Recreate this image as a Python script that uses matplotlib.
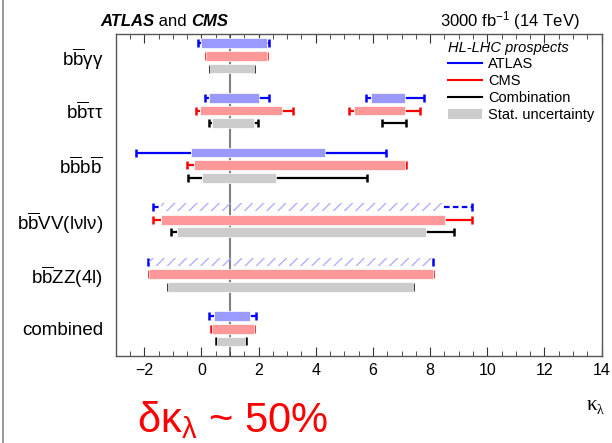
import matplotlib
matplotlib.use('Agg')
import matplotlib.pyplot as plt
from matplotlib.lines import Line2D
from matplotlib.patches import Patch
from matplotlib.ticker import MultipleLocator

plt.rcParams['font.family'] = ['Liberation Sans', 'DejaVu Sans']
plt.rcParams['mathtext.fontset'] = 'custom'
plt.rcParams['mathtext.rm'] = 'Liberation Sans'
plt.rcParams['mathtext.it'] = 'Liberation Sans:italic'
plt.rcParams['mathtext.bf'] = 'Liberation Sans:bold'
plt.rcParams['hatch.linewidth'] = 1.0

# categories from bottom to top
categories = ['combined', 'bbZZ', 'bbVV', 'bbbb', 'bbtautau', 'bbgamgam']
cat_labels = ['combined',
              r'b$\overline{\mathrm{b}}$ZZ(4l)',
              r'b$\overline{\mathrm{b}}$VV(lνlν)',
              r'b$\overline{\mathrm{b}}$b$\overline{\mathrm{b}}$',
              r'b$\overline{\mathrm{b}}$ττ',
              r'b$\overline{\mathrm{b}}$γγ']

# (category, stat_lo, stat_hi, total_lo, total_hi); None -> no stat box
atlas = [
    ('bbgamgam', 0.00, 2.30, -0.12, 2.38),
    ('bbtautau', 0.25, 2.03, 0.12, 2.38),
    ('bbtautau', 5.94, 7.13, 5.75, 7.80),
    ('bbbb', -0.36, 4.34, -2.28, 6.45),
    ('bbVV', -1.43, 8.47, -1.69, 9.46),
    ('bbZZ', -1.84, 8.10, -1.88, 8.10),
    ('combined', 0.45, 1.69, 0.28, 1.91),
]
cms = [
    ('bbgamgam', 0.15, 2.30, 0.15, 2.30),
    ('bbtautau', -0.05, 2.82, -0.20, 3.22),
    ('bbtautau', 5.33, 7.11, 5.17, 7.66),
    ('bbbb', -0.27, 7.12, -0.52, 7.16),
    ('bbVV', -1.43, 8.51, -1.69, 9.47),
    ('bbZZ', -1.84, 8.10, -1.84, 8.10),
    ('combined', 0.37, 1.83, 0.35, 1.85),
]
combination = [
    ('bbgamgam', 0.30, 1.83, 0.30, 1.85),
    ('bbtautau', 0.37, 1.83, 0.28, 1.97),
    ('bbtautau', None, None, 6.32, 7.17),
    ('bbbb', 0.03, 2.61, -0.47, 5.79),
    ('bbVV', -0.85, 7.86, -1.05, 8.82),
    ('bbZZ', -1.18, 7.40, -1.18, 7.40),
    ('combined', 0.55, 1.51, 0.52, 1.56),
]

fig = plt.figure(figsize=(6.12, 4.43), dpi=100)
ax = fig.add_axes([0.189, 0.196, 0.794, 0.727])

bar_h = 0.18
series = [
    (atlas, 0.23, '#9999ff', '#0000ff'),
    (cms, 0.0, '#ff9999', '#ff0000'),
    (combination, -0.23, '#cccccc', '#000000'),
]

for data, offset, fill, line in series:
    for cat, slo, shi, tlo, thi in data:
        y = categories.index(cat) + offset
        hatched = data is atlas and cat in ('bbVV', 'bbZZ')
        ls = (0, (2.5, 1.5)) if hatched else '-'
        if slo is None:
            ax.hlines(y, tlo, thi, color=line, lw=1.6, zorder=2)
        else:
            ax.hlines([y, y], [tlo, shi], [slo, thi], color=line, lw=1.6,
                      linestyles=ls, zorder=2)
        ax.plot([tlo, thi], [y, y], ls='none', marker='|', ms=6,
                mew=1.8, color=line, zorder=2)
        if slo is None:
            continue
        if hatched:
            ax.barh(y, shi - slo, left=slo, height=bar_h * 0.85, fill=False,
                    hatch='///', edgecolor='#b0b0ff', lw=0, zorder=3)
        else:
            ax.barh(y, shi - slo, left=slo, height=bar_h, color=fill,
                    edgecolor='white', lw=0.5, zorder=3)

ax.axvline(1, color='#808080', lw=1.5, zorder=1)

ax.set_xlim(-3, 14)
ax.set_ylim(-0.5, 5.4)
ax.set_yticks(range(len(categories)))
ax.set_yticklabels(cat_labels, fontsize=13.5)
ax.xaxis.set_major_locator(MultipleLocator(2))
ax.xaxis.set_minor_locator(MultipleLocator(0.5))
ax.tick_params(axis='x', which='both', direction='in', top=True,
               labelsize=11.5, pad=5, color='#333333')
ax.tick_params(axis='x', which='major', length=6.5)
ax.tick_params(axis='x', which='minor', length=3.3)
ax.tick_params(axis='y', which='both', left=False, right=False, pad=5.5)
for s in ax.spines.values():
    s.set_color('#555555')
    s.set_linewidth(1.0)

handles = [Line2D([], [], color='#0000ff', lw=1.5),
           Line2D([], [], color='#ff0000', lw=1.5),
           Line2D([], [], color='#000000', lw=1.5),
           Patch(facecolor='#cccccc', edgecolor='none')]
leg = ax.legend(handles, ['ATLAS', 'CMS', 'Combination', 'Stat. uncertainty'],
                title='HL-LHC prospects', loc='upper left',
                bbox_to_anchor=(0.684, 0.98), frameon=False, fontsize=10.5,
                title_fontsize=10.5, alignment='left', borderpad=0,
                borderaxespad=0, handlelength=2.3, handletextpad=0.45,
                labelspacing=0.2)
leg.get_title().set_fontstyle('italic')

# header
t1 = fig.text(100 / 612, 1 - 26 / 443, 'ATLAS', fontsize=12,
              fontweight='bold', fontstyle='italic')
t2 = ax.annotate(' and ', xy=(1, 0), xycoords=t1, fontsize=12,
                 va='bottom', ha='left')
ax.annotate('CMS', xy=(1, 0), xycoords=t2, fontsize=12, fontweight='bold',
            fontstyle='italic', va='bottom', ha='left')
fig.text(580 / 612, 1 - 26 / 443, r'3000 fb$^{-1}$ (14 TeV)', fontsize=12,
         ha='right')

fig.text(597 / 612, 1 - 405 / 443, 'κ', fontsize=15, family='Liberation Serif',
         ha='right', va='center')
fig.text(597 / 612, 1 - 410 / 443, 'λ', fontsize=10, family='Liberation Serif',
         ha='left', va='center')
fig.text(137 / 612, 1 - 432 / 443, r'δκ$_{\mathrm{λ}}$ ~ 50%', fontsize=30,
         color='#ff0000', ha='left', va='baseline')

fig.add_artist(Line2D([3 / 612, 3 / 612], [0, 1], color='#888888', lw=1.2))

fig.savefig('out.png', dpi=100)
